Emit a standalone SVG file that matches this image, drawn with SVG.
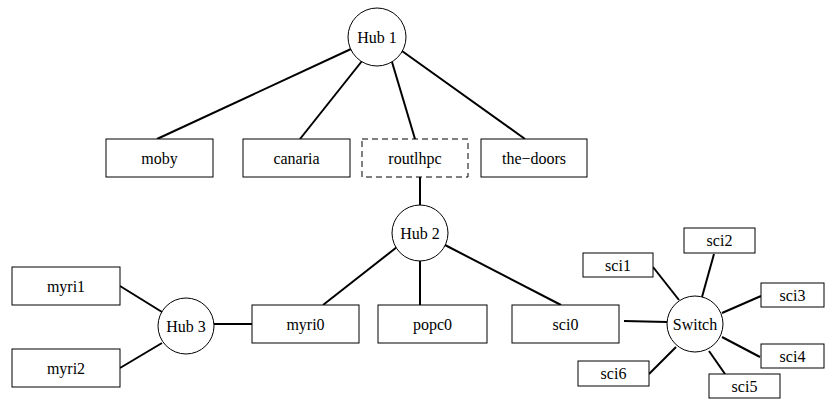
<svg xmlns="http://www.w3.org/2000/svg" width="825" height="408" viewBox="0 0 825 408">
<style>
.n rect,.n circle{fill:#fff;stroke:#000;stroke-width:1}
.dash{stroke-dasharray:6,4}
#edges line{stroke:#000;stroke-width:2}
.n text{font-family:'Liberation Serif','DejaVu Serif',serif;font-size:16px;text-anchor:middle;dominant-baseline:central;fill:#000}
</style>
<rect width="825" height="408" fill="#fff"/>
<g id="edges">
<line x1="351" y1="49" x2="157" y2="139"/>
<line x1="362" y1="61" x2="300" y2="139"/>
<line x1="392" y1="62" x2="415" y2="139"/>
<line x1="402" y1="51" x2="525" y2="139"/>
<line x1="420" y1="177" x2="420" y2="205"/>
<line x1="397" y1="247" x2="323" y2="305"/>
<line x1="420" y1="261" x2="420" y2="305"/>
<line x1="445" y1="245" x2="561" y2="305"/>
<line x1="120" y1="286" x2="162" y2="312"/>
<line x1="120" y1="368" x2="162" y2="343"/>
<line x1="214" y1="324" x2="252" y2="324"/>
<line x1="624" y1="321" x2="667" y2="322"/>
<line x1="653" y1="267" x2="679" y2="300"/>
<line x1="714" y1="254" x2="702" y2="297"/>
<line x1="761" y1="296" x2="722" y2="313"/>
<line x1="722" y1="337" x2="760" y2="357"/>
<line x1="709" y1="351" x2="725" y2="374"/>
<line x1="649" y1="374" x2="676" y2="347"/>
</g>
<g id="hub1" class="n"><circle cx="377" cy="37" r="29"/><text x="377" y="37">Hub 1</text></g>
<g id="moby" class="n"><rect x="106" y="139" width="107" height="38"/><text x="159.5" y="158">moby</text></g>
<g id="canaria" class="n"><rect x="243" y="139" width="107" height="38"/><text x="296.5" y="158">canaria</text></g>
<g id="routlhpc" class="n"><rect class="dash" x="362" y="139" width="106" height="38"/><text x="415" y="158">routlhpc</text></g>
<g id="the-doors" class="n"><rect x="481" y="139" width="106" height="38"/><text x="534" y="158">the−doors</text></g>
<g id="hub2" class="n"><circle cx="420" cy="233" r="28"/><text x="420" y="233">Hub 2</text></g>
<g id="myri1" class="n"><rect x="12" y="267" width="108" height="38"/><text x="66" y="286">myri1</text></g>
<g id="myri2" class="n"><rect x="12" y="349" width="108" height="38"/><text x="66" y="368">myri2</text></g>
<g id="hub3" class="n"><circle cx="186" cy="326" r="28"/><text x="186" y="326">Hub 3</text></g>
<g id="myri0" class="n"><rect x="252" y="305" width="107" height="38"/><text x="305.5" y="324">myri0</text></g>
<g id="popc0" class="n"><rect x="378" y="305" width="109" height="38"/><text x="432.5" y="324">popc0</text></g>
<g id="sci0" class="n"><rect x="512" y="305" width="107" height="38"/><text x="565.5" y="324">sci0</text></g>
<g id="switch" class="n"><circle cx="695" cy="324" r="28"/><text x="695" y="324">Switch</text></g>
<g id="sci1" class="n"><rect x="583" y="253" width="70" height="24"/><text x="618" y="265">sci1</text></g>
<g id="sci2" class="n"><rect x="684" y="228" width="71" height="25"/><text x="719.5" y="240.5">sci2</text></g>
<g id="sci3" class="n"><rect x="761" y="283" width="63" height="24"/><text x="792.5" y="295">sci3</text></g>
<g id="sci4" class="n"><rect x="761" y="344" width="63" height="24"/><text x="792.5" y="356">sci4</text></g>
<g id="sci5" class="n"><rect x="709" y="374" width="71" height="24"/><text x="744.5" y="386">sci5</text></g>
<g id="sci6" class="n"><rect x="578" y="361" width="71" height="25"/><text x="613.5" y="373.5">sci6</text></g>
</svg>
